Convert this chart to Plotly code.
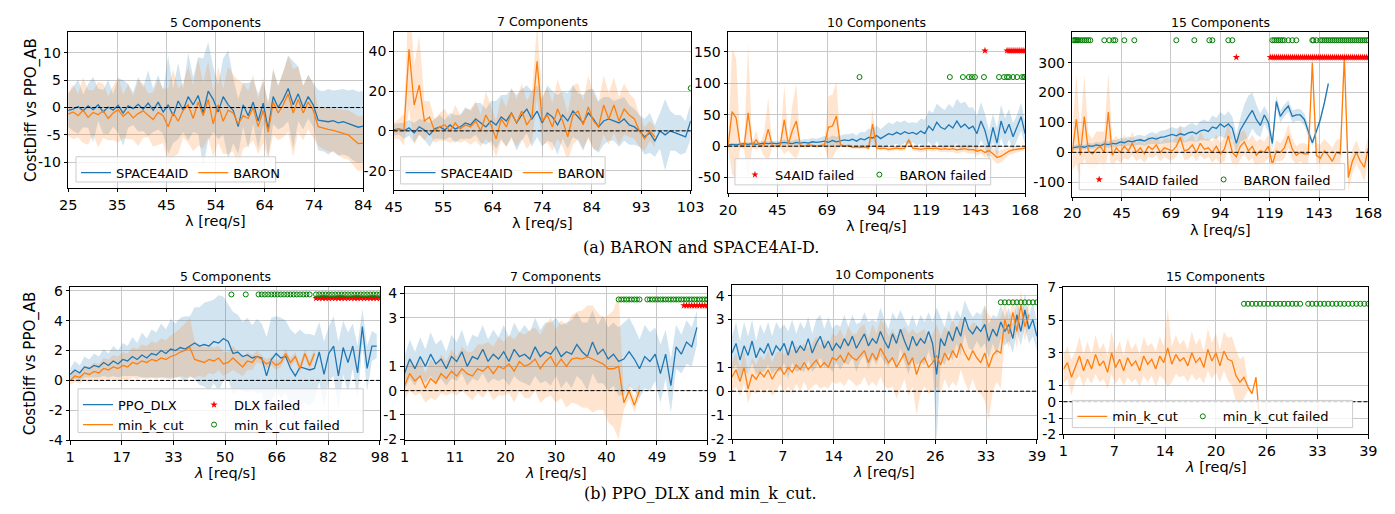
import numpy as np
import plotly.graph_objects as go

W, H = 1395, 514
FONT = "DejaVu Sans, Arial, sans-serif"
SERIF = "DejaVu Serif, Liberation Serif, serif"
BLUE, ORANGE, GREEN, RED = "#1f77b4", "#ff7f0e", "#008000", "#ff0000"
BLUE_BAND, ORANGE_BAND = "rgba(31,119,180,0.2)", "rgba(255,127,14,0.2)"
N = None

# ================= DATA =================
# ---- (a) 5 Components : lambda 25..84 step 1
T5_START, T5_STEP = 25, 1
T5_SPACE = [-0.5,-0.3,0.2,-0.6,0.3,-0.4,0.5,-0.8,0.1,-0.5, 0.4,-1.0,0.3,-0.2,0.6,-0.3,0.8,-0.5,1.0,-0.8,
            0.5,-1.5,1.2,-0.5,2.0,0.5,2.2,-1.0,3.0,1.5, -0.8,2.0,0.5,-0.5,-3.5,0.5,-1.5,1.0,-2.5,0.8,
            -4.0,2.0,0.0,1.5,3.5,0.5,2.5,0.0,2.0,0.5, -2.3,-2.5,-2.6,-2.4,-2.8,-2.6,-2.9,-3.2,-3.6,-3.4]
T5_SPACE_SD = [3,4,5,3,4,6,3,4,5,3, 5,6,4,3,5,4,6,4,5,4, 9,5,7,4,8,5,7,10,9,6, 5,7,10,6,5,4,6,4,5,4,
               5,5,4,5,6,8,5,4,4,4, 5.5,5.5,6,5.5,6,6,6,6.5,6.5,6.5]
T5_BARON = [-1.2,-0.8,-1.5,-0.5,-1.8,-0.9,-1.3,-0.6,-2.0,-1.0, -0.4,-1.6,-0.8,-1.9,-1.1,-0.6,-1.4,-2.2,-0.9,-1.5,
            -3.5,-1.0,-2.5,-0.5,0.5,-2.0,1.0,-1.5,1.5,-3.0, 0.5,-2.5,-0.5,-1.0,-3.0,-1.5,-2.0,0.0,-3.5,-0.5,
            -4.5,1.0,-1.0,0.5,2.5,-1.0,1.5,-1.0,1.0,-0.5, -3.5,-3.8,-4.0,-4.2,-4.5,-4.8,-5.0,-5.8,-6.6,-6.5]
T5_BARON_SD = [4,5,4,6,5,4,6,5,4,5, 6,4,5,4,6,5,4,5,6,5, 7,8,6,5,7,6,8,6,7,6, 7,6,8,7,8,6,5,6,5,6,
               5,6,5,6,7,8,6,5,5,5, 3.5,3.8,4,4,4.2,4.5,4.5,4.8,5,5]

# ---- (a) 7 Components : lambda 45..103 step 1
T7_START, T7_STEP = 45, 1
T7_SPACE = [0.5,1,0,1.5,-1,2,0.5,-2,1,2, 0.5,3,1,2,4,3,6,4,2,5, 3,7,5,9,4,8,11,6,10,4,
            9,7,3,8,5,10,7,4,9,6, 2,5,6,5,4,6,3,2,0,-3, -1,-5,0,-2,0,-1,-2,-3,5]
T7_SPACE_SD = [3,3,4,4,5,4,5,6,5,6, 5,6,7,6,8,7,8,10,9,10, 12,11,13,12,14,13,12,14,13,12,
               14,13,15,12,14,13,12,14,12,15, 13,12,11,10,12,11,10,9,8,9, 10,8,9,18,10,9,10,8,9]
T7_BARON = [0,1,0.5,41,13,23,5,7,0,2, 3,0,4,1,3,2,5,0,8,3, -4,6,2,9,4,10,3,7,35,5,
            8,2,11,5,-3,8,10,3,12,5, 2,13,6,13,5,11,8,6,0,-4, 0,-3,N,N,N,N,N,N,N]
T7_BARON_SD = [4,5,8,30,20,25,10,8,6,7, 8,6,9,7,8,9,10,8,12,10, 9,11,10,13,12,14,12,13,18,12,
               14,12,15,13,12,15,14,12,16,14, 12,15,13,14,12,13,11,10,8,6, 5,5,N,N,N,N,N,N,N]
T7_BARON_FAIL_X, T7_BARON_FAIL_Y = [103], 21.5

# ---- (a) 10 Components : lambda 20..168 step 2
T10_START, T10_STEP = 20, 2
T10_SPACE = [2,3,2,3,4,3,4,3,4,5, 4,5,4,5,6,5,4,6,5,6, 5,7,6,7,8,6,9,7,8,10, 9,11,8,12,10,14,13,17,12,16,
             20,18,22,19,23,20,22,19,24,20, 32,25,38,30,27,34,29,40,30,35, 28,32,20,40,25,0,30,5,40,20,
             35,15,30,47,20]
T10_SPACE_SD = [2,2,3,2,3,3,3,3,3,4, 3,4,4,4,5,4,5,5,5,5, 6,6,6,7,8,7,8,8,9,9, 10,10,9,11,12,14,13,16,15,17,
                18,17,18,19,18,17,16,18,20,22, 25,28,30,32,30,33,32,35,38,36, 33,30,28,30,27,25,22,24,26,25,
                24,22,20,22,18]
T10_BARON = [0,55,45,2,0,53,2,10,0,3, 27,1,0,2,42,3,25,40,1,0, 2,1,0,1,2,30,32,48,2,0,
             1,-2,-1,-2,-1,-3,35,-3,-4,-3, -5,-4,-3,-4,-3,10,-3,-4,-5,-4, -3,-4,-3,-5,-4,-5,-4,-6,-5,-4,
             -6,-5,-8,-6,-10,-7,-12,-18,-16,-12, -8,-6,-5,-4,-3]
T10_BARON_SD = [5,100,95,5,5,110,5,15,3,20, 50,3,3,5,55,10,40,60,3,2, 3,2,2,2,4,50,50,55,3,2,
                2,3,3,3,3,3,25,3,3,3, 4,4,3,4,4,5,4,4,5,4, 4,5,4,5,5,5,5,6,5,5,
                6,6,7,6,8,8,9,10,10,8, 6,5,5,4,3]
T10_S4AID_FAIL_X = [148,159,160,161,162,163,164,165,166,167,168]
T10_S4AID_FAIL_Y = 152
T10_BARON_FAIL_X = [85.5,130.5,137,140,141.5,143,147.5,155,157.5,159,160,162,164,166.5,167.5,168]
T10_BARON_FAIL_Y = 110

# ---- (a) 15 Components : lambda 20..168 step 2
T15_START, T15_STEP = 20, 2
T15_SPACE = [15,18,20,17,22,20,25,22,28,26, 30,28,35,32,38,35,40,42,38,45, 48,44,50,52,55,60,55,62,58,65,
             68,62,72,75,70,85,80,95,85,95, 80,30,75,100,120,140,110,90,125,100, 30,170,120,140,155,120,125,125,110,70,
             32,70,110,165,230,N,N,N,N,N, N,N,N,N,N]
T15_SPACE_SD = [8,8,9,8,10,9,10,10,12,11, 12,12,14,13,15,14,16,17,16,18, 20,18,22,22,24,25,24,26,25,28,
                30,28,32,35,32,38,35,40,38,42, 40,30,40,60,70,60,50,40,30,30, 20,20,20,20,20,20,20,20,20,20,
                10,10,10,10,10,N,N,N,N,N, N,N,N,N,N]
T15_BARON = [0,110,-10,120,5,-5,10,20,0,135, -10,15,0,20,5,30,0,15,-5,20, 10,25,0,15,10,5,20,50,5,10,
             25,0,30,10,15,0,20,-5,10,55, 0,-15,20,35,5,20,-10,5,0,20, -40,5,0,15,55,10,-10,0,-5,-5,
             300,-10,-20,5,-10,-30,0,-5,320,-85, -30,0,-30,-50,15]
T15_BARON_SD = [60,150,80,140,60,50,60,50,70,130, 50,40,35,40,30,40,30,35,30,35, 30,35,30,30,35,30,35,40,30,35,
                35,30,40,35,30,35,40,35,40,45, 40,40,45,40,35,40,45,40,35,40, 40,35,30,35,40,35,30,30,35,30,
                40,40,45,40,40,45,40,50,50,45, 40,40,35,50,40]
T15_S4AID_FAIL_X = [102,119,120,121,122,123,124,125,126,127,128,129,130,131,132,133,134,135,136,137,138,139,140,
                    141,142,143,144,145,146,147,148,149,150,151,152,153,154,155,156,157,158,159,160,161,162,163,
                    164,165,166,167,168]
T15_S4AID_FAIL_Y = 318
T15_BARON_FAIL_X = [20.5,21,21.5,22,22.5,23,24,25,26,27,28,29, 36,38.5,40.5,41.5,46,51, 72,81,88.5,90,98,100,
                    120,121,122,123,124,125,126,128,130,132, 140,140.5,142,144,145,146,147,148,149,150,151,152,
                    153,154,155,156,157,158,159,160,161,162,163,164,165,166,167,168]
T15_BARON_FAIL_Y = 375

# ---- (b) 5 Components : lambda 1..97 step 1.5
B5_START, B5_STEP = 1, 1.5
B5_DLX = [0.4,0.7,0.5,0.9,0.8,1.0,0.9,1.2,1.0,1.3, 1.1,1.4,1.3,1.6,1.4,1.7,1.5,1.8,1.7,2.0,
          1.8,2.1,2.0,2.2,2.1,2.3,2.5,2.3,2.4,2.3, 2.6,2.5,2.8,2.6,1.8,1.9,1.6,1.7,1.5,1.6,
          1.5,0.3,1.4,1.8,1.5,1.6,0.8,0.3,0.9,0.8, 0.7,0.8,1.9,0.4,1.8,2.3,0.3,2.2,1.2,2.3,
          0.5,3.6,0.8,2.3,2.3]
B5_DLX_SD = [0.4,0.6,0.5,0.7,0.6,0.8,0.7,0.9,0.8,1.0, 0.9,1.1,1.0,1.3,1.1,1.5,1.3,1.6,1.5,1.8,
             1.6,2.0,1.8,2.0,2.2,2.0,2.4,2.6,2.8,3.0, 2.8,3.2,2.8,2.5,2.8,2.5,2.3,2.5,2.2,2.5,
             2.3,2.6,2.8,2.5,2.7,2.4,2.6,2.8,2.5,2.3, 2.4,2.2,2.0,2.2,1.8,2.0,2.3,1.8,2.0,1.5,
             1.8,1.2,1.5,1.0,0.8]
B5_MKC = [0.0,0.3,0.2,0.5,0.4,0.6,0.5,0.8,0.7,0.9, 0.8,1.0,0.9,1.2,1.1,1.3,1.2,1.4,1.3,1.5,
          1.4,1.6,1.7,1.9,2.0,2.2,1.4,1.3,1.2,1.4, 1.3,1.5,1.1,1.2,1.5,1.2,0.9,1.3,1.2,1.6,
          1.4,1.1,1.3,1.0,1.2,1.8,1.2,1.6,0.8,1.8, 1.0,1.8,N,N,N,N,N,N,N,N, N,N,N,N,N]
B5_MKC_SD = [0.3,0.4,0.4,0.5,0.5,0.6,0.6,0.7,0.7,0.8, 0.8,0.9,0.9,1.0,1.0,1.1,1.1,1.2,1.2,1.3,
             1.3,1.4,1.5,1.6,1.8,2.0,1.2,1.0,1.0,0.9, 0.9,0.8,0.8,0.7,0.8,0.7,0.6,0.6,0.5,0.4,
             0.3,0.3,0.3,0.3,0.3,0.3,0.3,0.3,0.3,0.3, 0.3,0.3,N,N,N,N,N,N,N,N, N,N,N,N,N]
B5_DLX_FAIL_X = [78,79,80,81,82,83,84,85,86,87,88,89,90,91,92,93,94,95,96,97,98]
B5_DLX_FAIL_Y = 5.5
B5_MKC_FAIL_X = [51.5,56,60,61,62,63,64,65,66,67,68,69,70,71,72,73,74,75,76,78,79,80,81,82,83,84,85,86,87,
                 88,89,90,91,92,93,94,95,96,97,98]
B5_MKC_FAIL_Y = 5.75

# ---- (b) 7 Components : lambda 1..59 step 1
B7_START, B7_STEP = 1, 1
B7_DLX = [0.7,1.3,0.9,1.4,1.0,1.5,1.1,1.3,0.9,1.4, 1.2,1.6,1.0,1.4,1.3,1.7,1.2,1.5,1.3,1.6,
          1.2,1.7,1.4,1.5,1.3,1.8,1.4,1.6,1.5,1.8, 1.4,1.6,1.5,1.9,1.6,1.4,2.0,1.5,1.7,1.3,
          1.5,1.2,1.3,1.6,1.3,0.9,1.4,1.2,1.5,0.7, 1.5,0.2,1.8,1.5,2.0,1.8,2.6,N,N]
B7_DLX_SD = [0.7,0.8,0.7,0.8,0.7,0.9,0.8,0.8,0.7,0.9, 0.8,0.9,0.8,0.9,0.9,1.0,0.9,1.0,0.9,1.1,
             1.0,1.1,1.0,1.2,1.1,1.2,1.1,1.2,1.3,1.2, 1.3,1.2,1.4,1.3,1.2,1.4,1.3,1.2,1.4,1.3,
             1.3,1.4,1.5,1.4,1.3,1.2,1.3,1.2,1.1,1.2, 1.0,1.1,0.9,0.8,0.9,0.8,0.7,N,N]
B7_MKC = [0.2,0.7,0.4,0.6,0.1,0.5,0.3,0.7,0.5,0.8, 0.6,0.9,0.7,0.6,0.9,0.8,1.0,0.7,1.0,0.9,
          1.1,0.8,1.2,1.0,1.1,1.3,0.9,1.2,1.4,1.0, 1.3,1.0,1.3,1.35,1.3,1.4,1.3,1.2,1.1,0.9,
          0.9,1.0,-0.5,0.0,-0.6,0.0,N,N,N,N, N,N,N,N,N,N,N,N,N]
B7_MKC_SD = [0.6,0.7,0.6,0.7,0.6,0.8,0.7,0.8,0.7,0.9, 0.8,0.9,0.9,1.0,1.0,1.1,1.0,1.1,1.2,1.1,
             1.2,1.3,1.2,1.3,1.4,1.3,1.4,1.5,1.6,1.5, 1.6,1.7,1.8,1.9,2.0,2.1,2.2,2.0,1.9,2.2,
             2.4,3.0,0.3,0.3,0.3,0.3,N,N,N,N, N,N,N,N,N,N,N,N,N]
B7_DLX_FAIL_X = [54.5,55,55.5,56,56.5,57,57.5,58,58.5,59]
B7_DLX_FAIL_Y = 3.5
B7_MKC_FAIL_X = [42,42.5,43,43.5,44,44.5,45,45.5,46,47.5,48,48.5,49,49.5,50,50.5,51,51.5,52,52.5,53,53.5,
                 54,54.5,55,55.5,56,56.5,57,57.5,58,58.5,59]
B7_MKC_FAIL_Y = 3.75

# ---- (b) 10 Components : lambda 1..39 step 0.5
B10_START, B10_STEP = 1, 0.5
B10_DLX = [1.6,2.0,1.3,1.9,1.5,2.1,1.4,1.8,1.6,2.0, 1.5,1.9,1.7,2.0,1.5,2.1,1.6,1.9,1.7,2.2,
           1.6,2.0,2.3,1.8,2.1,1.7,2.0,1.8,2.2,1.9, 2.3,1.8,2.1,2.4,1.9,2.2,2.0,2.5,2.1,1.8,
           2.4,2.0,2.6,2.1,1.7,2.3,1.9,2.2,2.0,2.5, 2.0,0.7,2.2,1.9,2.5,2.1,2.7,2.3,3.1,2.6,
           2.4,2.7,2.5,2.8,2.1,2.6,2.3,2.9,2.5,2.8, 2.2,3.2,2.5,3.4,2.6,3.0,2.3]
B10_DLX_SD = [0.7,0.9,0.8,1.0,0.8,0.9,0.7,1.0,0.8,0.9, 0.8,1.0,0.9,0.8,1.0,0.9,0.8,1.0,0.9,0.9,
              0.8,1.0,0.9,0.8,1.0,0.9,0.8,0.9,1.0,0.8, 0.9,1.0,0.8,0.9,1.0,0.8,0.9,1.0,0.9,0.8,
              0.9,1.0,0.8,0.9,1.0,0.9,0.8,1.0,0.9,0.8, 0.9,2.8,0.9,0.8,0.9,0.8,0.7,0.8,0.7,0.8,
              0.7,0.6,0.7,0.8,0.7,0.6,0.8,0.7,0.6,0.7, 0.6,0.7,0.6,0.7,0.6,0.7,0.6]
B10_MKC = [0.6,0.9,0.4,1.0,0.1,0.7,0.5,0.8,0.6,0.9, 0.5,0.8,1.0,0.7,1.0,0.8,1.1,0.9,1.2,0.9,
           1.1,1.3,1.0,1.2,1.0,1.4,1.3,1.5,1.2,1.6, 1.4,1.3,1.5,1.7,1.2,1.6,1.3,1.8,1.5,1.2,
           1.4,1.0,1.3,1.6,1.1,1.4,0.7,1.2,1.4,1.0, 1.2,1.5,1.1,1.6,1.3,1.7,1.4,2.0,1.6,1.3,
           1.7,1.4,1.2,1.6,1.0,1.5,1.7,1.6,3.0,2.4, 3.3,2.5,3.6,2.7,3.2,N,N]
B10_MKC_SD = [0.6,0.7,0.6,0.7,0.6,0.7,0.6,0.7,0.7,0.8, 0.7,0.8,0.7,0.8,0.8,0.9,0.8,0.9,0.8,0.9,
              0.9,1.0,0.9,1.0,0.9,1.0,1.0,1.1,1.0,1.1, 1.0,1.1,1.2,1.1,1.0,1.2,1.1,1.2,1.3,1.1,
              1.2,1.3,1.2,1.1,1.3,1.2,1.7,1.3,1.2,1.1, 1.2,1.3,1.2,1.1,1.2,1.3,1.2,1.1,1.2,1.3,
              1.2,1.4,1.3,2.0,2.2,1.5,1.3,1.5,0.7,0.6, 0.6,0.7,0.6,0.6,0.5,N,N]
B10_MKC_FAIL_X = [34.5,35,35.5,36,36.5,37,37.5,38,38.5,39]
B10_MKC_FAIL_Y = 3.72

# ---- (b) 15 Components : lambda 1..25.5 step 0.5
B15_START, B15_STEP = 1, 0.5
B15_MKC = [2.0,2.4,1.5,2.2,2.8,1.9,2.6,2.0,2.9,2.2, 2.5,1.8,3.0,2.1,2.6,1.9,2.7,2.2,2.5,1.9,
           2.8,2.3,2.6,2.0,2.8,2.4,3.3,2.3,2.9,2.5, 2.7,2.2,3.0,2.4,2.7,2.1,3.2,2.5,3.0,2.2,
           3.1,2.6,2.5,1.6,1.2,1.5,0.9,0.5,1.5,-1.5]
B15_MKC_SD = [0.9,1.0,1.1,0.9,1.2,1.0,1.1,0.9,1.2,1.0, 1.1,1.0,1.3,1.0,1.1,0.9,1.2,1.0,1.1,1.0,
              1.2,1.1,1.0,1.1,1.2,1.0,2.4,1.1,1.2,1.0, 1.1,1.0,1.3,1.1,1.2,1.0,1.3,1.1,1.2,1.0,
              1.2,1.3,1.5,1.6,1.4,1.3,0.2,0.1,0.1,0.1]
B15_MKC_FAIL_X = [23.5,24,24.5,25,25.5,26,26.5,27,27.5,28,28.5,29,29.5,30,30.5,
                  31.5,32,32.5,33,33.5,34,34.5,35,35.5,36,36.5,37,37.5,38,38.5,39]
B15_MKC_FAIL_Y = 6.0

# ---- axes tick labels
T5_XTICKS = ['25', '35', '45', '54', '64', '74', '84']
T7_XTICKS = ['45', '55', '64', '74', '84', '93', '103']
T10_XTICKS = ['20', '45', '69', '94', '119', '143', '168']
B5_XTICKS = ['1', '17', '33', '50', '66', '82', '98']
B7_XTICKS = ['1', '11', '20', '30', '40', '49', '59']
B10_XTICKS = ['1', '7', '14', '20', '26', '33', '39']

# ================= FIGURE =================
fig = go.Figure()
shapes, annotations = [], []


def lam(start, step, n):
    return [start + step * i for i in range(n)]


def add_series(ax, ay, start, step, mean, sd, color, band, name, legend):
    x = lam(start, step, len(mean))
    idx = [i for i in range(len(mean)) if mean[i] is not None and sd[i] is not None]
    xs = [x[i] for i in idx]
    up = [mean[i] + sd[i] for i in idx]
    lo = [mean[i] - sd[i] for i in idx]
    fig.add_trace(go.Scatter(x=xs + xs[::-1], y=up + lo[::-1], fill='toself', fillcolor=band,
                             line=dict(width=0), mode='lines', hoverinfo='skip', showlegend=False,
                             xaxis=ax, yaxis=ay))
    return dict(x=x, y=mean, color=color, name=name, legend=legend, ax=ax, ay=ay)


def add_line(s):
    fig.add_trace(go.Scatter(x=s['x'], y=s['y'], mode='lines', line=dict(color=s['color'], width=1.3),
                             name=s['name'], showlegend=s['legend'] is not None,
                             legend=s['legend'] or 'legend', xaxis=s['ax'], yaxis=s['ay']))


def add_fail(ax, ay, xs, ylev, kind, name, legend):
    if kind == 'star':
        marker = dict(symbol='star', size=5.5, color=RED, line=dict(width=0))
    else:
        marker = dict(symbol='circle-open', size=5, color=GREEN, line=dict(width=1, color=GREEN))
    fig.add_trace(go.Scatter(x=xs, y=[ylev] * len(xs), mode='markers', marker=marker, name=name,
                             showlegend=legend is not None, legend=legend or 'legend',
                             xaxis=ax, yaxis=ay))


panels = [
    dict(dom=(52, 352, 18, 178), xr=(25, 84), xt=T5_XTICKS, yr=(-14.7, 13.75), yt=[-10, -5, 0, 5, 10],
         title='5 Components', italic=False, ytitle=True),
    dict(dom=(383, 685, 17, 180), xr=(45, 103), xt=T7_XTICKS, yr=(-29.6, 50), yt=[-20, 0, 20, 40],
         title='7 Components', italic=False, ytitle=False),
    dict(dom=(723, 1025, 18, 183), xr=(20, 168), xt=T10_XTICKS, yr=(-74, 181), yt=[-50, 0, 50, 100, 150],
         title='10 Components', italic=False, ytitle=False),
    dict(dom=(1073, 1374, 18, 187), xr=(20, 168), xt=T10_XTICKS, yr=(-148, 401), yt=[-100, 0, 100, 200, 300],
         title='15 Components', italic=False, ytitle=False),
    dict(dom=(54, 369, 280, 438), xr=(1, 98), xt=B5_XTICKS, yr=(-4, 6.26), yt=[-4, -2, 0, 2, 4, 6],
         title='5 Components', italic=True, ytitle=True),
    dict(dom=(394, 702, 280, 438), xr=(1, 59), xt=B7_XTICKS, yr=(-2.04, 4.27), yt=[-2, -1, 0, 1, 3, 4],
         title='7 Components', italic=True, ytitle=False),
    dict(dom=(727, 1037, 278, 437), xr=(1, 39), xt=B10_XTICKS, yr=(-2.01, 4.45), yt=[-2, -1, 0, 1, 3, 4],
         title='10 Components', italic=True, ytitle=False),
    dict(dom=(1064, 1374, 280, 432), xr=(1, 39), xt=B10_XTICKS, yr=(-2, 7.04), yt=[-2, -1, 0, 1, 3, 5, 7],
         title='15 Components', italic=True, ytitle=False),
]

layout = dict(width=W, height=H, margin=dict(l=0, r=0, t=0, b=0), plot_bgcolor='white',
              paper_bgcolor='white', font=dict(family=FONT, color='black'), showlegend=True)

for k, p in enumerate(panels):
    i = k + 1
    sx = '' if i == 1 else str(i)
    ax, ay = 'x' + sx, 'y' + sx
    x0, x1, y0, y1 = p['dom']
    tv = list(np.linspace(p['xr'][0], p['xr'][1], 7))
    layout['xaxis' + sx] = dict(domain=[x0 / W, x1 / W], range=list(p['xr']), anchor=ay,
                                tickvals=tv, ticktext=p['xt'], showgrid=True, gridcolor='#c8c8c8',
                                gridwidth=1, zeroline=False, showline=True, mirror=True,
                                linecolor='black', linewidth=1, ticks='outside', ticklen=3.5,
                                tickcolor='black', tickfont=dict(size=14.5, family=FONT))
    layout['yaxis' + sx] = dict(domain=[1 - y1 / H, 1 - y0 / H], range=list(p['yr']), anchor=ax,
                                tickvals=p['yt'], ticktext=[str(v) for v in p['yt']], showgrid=True,
                                gridcolor='#c8c8c8', gridwidth=1, zeroline=False, showline=True,
                                mirror=True, linecolor='black', linewidth=1, ticks='outside',
                                ticklen=3.5, tickcolor='black', tickfont=dict(size=14, family=FONT))
    shapes.append(dict(type='line', xref=ax + ' domain', yref=ay, x0=0, x1=1, y0=0, y1=0,
                       line=dict(color='black', width=1, dash='4px,2px'), layer='above'))
    annotations.append(dict(text=p['title'], x=(x0 + x1) / 2 / W, y=1 - (y0 - 1) / H, xref='paper',
                            yref='paper', xanchor='center', yanchor='bottom', showarrow=False,
                            font=dict(size=12.5, family=FONT)))
    xt = '<i>λ</i> [req/s]' if p['italic'] else 'λ [req/s]'
    annotations.append(dict(text=xt, x=(x0 + x1) / 2 / W, y=1 - (y1 + 34) / H, xref='paper',
                            yref='paper', xanchor='center', yanchor='middle', showarrow=False,
                            font=dict(size=14.5, family=FONT)))
    if p['ytitle']:
        annotations.append(dict(text='CostDiff vs PPO_AB', x=14 / W, y=1 - (y0 + y1) / 2 / H,
                                xref='paper', yref='paper', xanchor='center', yanchor='middle',
                                textangle=-90, showarrow=False, font=dict(size=15, family=FONT)))

# ---- traces
lines = []
lines.append(add_series('x', 'y', T5_START, T5_STEP, T5_SPACE, T5_SPACE_SD, BLUE, BLUE_BAND, 'SPACE4AID', 'legend'))
lines.append(add_series('x', 'y', T5_START, T5_STEP, T5_BARON, T5_BARON_SD, ORANGE, ORANGE_BAND, 'BARON', 'legend'))
lines.append(add_series('x2', 'y2', T7_START, T7_STEP, T7_SPACE, T7_SPACE_SD, BLUE, BLUE_BAND, 'SPACE4AID', 'legend2'))
lines.append(add_series('x2', 'y2', T7_START, T7_STEP, T7_BARON, T7_BARON_SD, ORANGE, ORANGE_BAND, 'BARON', 'legend2'))
lines.append(add_series('x3', 'y3', T10_START, T10_STEP, T10_SPACE, T10_SPACE_SD, BLUE, BLUE_BAND, 'SPACE4AID', None))
lines.append(add_series('x3', 'y3', T10_START, T10_STEP, T10_BARON, T10_BARON_SD, ORANGE, ORANGE_BAND, 'BARON', None))
lines.append(add_series('x4', 'y4', T15_START, T15_STEP, T15_SPACE, T15_SPACE_SD, BLUE, BLUE_BAND, 'SPACE4AID', None))
lines.append(add_series('x4', 'y4', T15_START, T15_STEP, T15_BARON, T15_BARON_SD, ORANGE, ORANGE_BAND, 'BARON', None))
lines.append(add_series('x5', 'y5', B5_START, B5_STEP, B5_DLX, B5_DLX_SD, BLUE, BLUE_BAND, 'PPO_DLX', 'legend5'))
lines.append(add_series('x5', 'y5', B5_START, B5_STEP, B5_MKC, B5_MKC_SD, ORANGE, ORANGE_BAND, 'min_k_cut', 'legend5'))
lines.append(add_series('x6', 'y6', B7_START, B7_STEP, B7_DLX, B7_DLX_SD, BLUE, BLUE_BAND, 'PPO_DLX', None))
lines.append(add_series('x6', 'y6', B7_START, B7_STEP, B7_MKC, B7_MKC_SD, ORANGE, ORANGE_BAND, 'min_k_cut', None))
lines.append(add_series('x7', 'y7', B10_START, B10_STEP, B10_DLX, B10_DLX_SD, BLUE, BLUE_BAND, 'PPO_DLX', None))
lines.append(add_series('x7', 'y7', B10_START, B10_STEP, B10_MKC, B10_MKC_SD, ORANGE, ORANGE_BAND, 'min_k_cut', None))
lines.append(add_series('x8', 'y8', B15_START, B15_STEP, B15_MKC, B15_MKC_SD, ORANGE, ORANGE_BAND, 'min_k_cut', 'legend7'))

for s in lines:
    add_line(s)

add_fail('x2', 'y2', T7_BARON_FAIL_X, T7_BARON_FAIL_Y, 'circle', 'BARON failed', None)
add_fail('x3', 'y3', T10_S4AID_FAIL_X, T10_S4AID_FAIL_Y, 'star', 'S4AID failed', 'legend3')
add_fail('x3', 'y3', T10_BARON_FAIL_X, T10_BARON_FAIL_Y, 'circle', 'BARON failed', 'legend3')
add_fail('x4', 'y4', T15_S4AID_FAIL_X, T15_S4AID_FAIL_Y, 'star', 'S4AID failed', 'legend4')
add_fail('x4', 'y4', T15_BARON_FAIL_X, T15_BARON_FAIL_Y, 'circle', 'BARON failed', 'legend4')
add_fail('x5', 'y5', B5_DLX_FAIL_X, B5_DLX_FAIL_Y, 'star', 'DLX failed', 'legend6')
add_fail('x5', 'y5', B5_MKC_FAIL_X, B5_MKC_FAIL_Y, 'circle', 'min_k_cut failed', 'legend6')
add_fail('x6', 'y6', B7_DLX_FAIL_X, B7_DLX_FAIL_Y, 'star', 'DLX failed', None)
add_fail('x6', 'y6', B7_MKC_FAIL_X, B7_MKC_FAIL_Y, 'circle', 'min_k_cut failed', None)
add_fail('x7', 'y7', B10_MKC_FAIL_X, B10_MKC_FAIL_Y, 'circle', 'min_k_cut failed', None)
add_fail('x8', 'y8', B15_MKC_FAIL_X, B15_MKC_FAIL_Y, 'circle', 'min_k_cut failed', 'legend7')

# ---- legend boxes (pixel boxes) and legends
boxes = [(60, 146, 263, 172), (390, 146, 598, 174), (730, 148, 990, 175), (1080, 153, 1350, 180),
         (62, 385, 352, 430), (1073, 397, 1358, 425)]
for bx0, by0, bx1, by1 in boxes:
    shapes.append(dict(type='rect', xref='paper', yref='paper', x0=bx0 / W, x1=bx1 / W,
                       y0=1 - by1 / H, y1=1 - by0 / H, fillcolor='rgba(255,255,255,0.8)',
                       line=dict(color='#cccccc', width=1), layer='above'))


def leg(px, py, orient):
    return dict(x=px / W, y=1 - py / H, xanchor='left', yanchor='top', orientation=orient,
                bgcolor='rgba(0,0,0,0)', borderwidth=0, font=dict(size=13, family=FONT),
                itemwidth=30, tracegroupgap=0)


layout['legend'] = leg(60, 147, 'h')
layout['legend2'] = leg(390, 147, 'h')
layout['legend3'] = leg(730, 149, 'h')
layout['legend4'] = leg(1080, 154, 'h')
layout['legend5'] = leg(62, 386, 'v')
layout['legend6'] = leg(180, 386, 'v')
layout['legend7'] = leg(1073, 398, 'h')

annotations.append(dict(text='(a) BARON and SPACE4AI-D.', x=695 / W, y=1 - 240 / H, xref='paper',
                        yref='paper', xanchor='center', yanchor='middle', showarrow=False,
                        font=dict(size=16, family=SERIF)))
annotations.append(dict(text='(b) PPO_DLX and min_k_cut.', x=695 / W, y=1 - 493 / H, xref='paper',
                        yref='paper', xanchor='center', yanchor='middle', showarrow=False,
                        font=dict(size=16, family=SERIF)))

layout['shapes'] = shapes
layout['annotations'] = annotations
fig.update_layout(**layout)
fig.write_html('out.html')
